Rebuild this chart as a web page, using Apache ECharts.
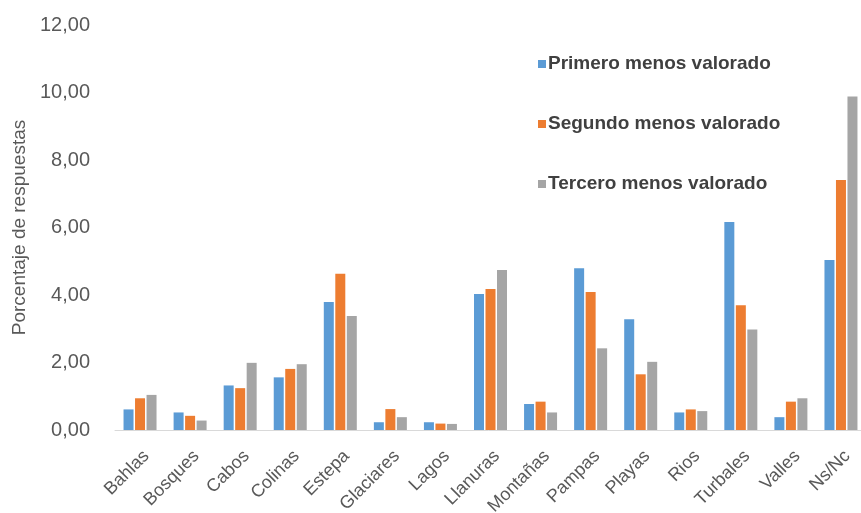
<!DOCTYPE html>
<html>
<head>
<meta charset="utf-8">
<script src="https://cdn.jsdelivr.net/npm/echarts@6/dist/echarts.min.js"></script>
<style>html,body{margin:0;padding:0;background:#fff;}#c{width:861px;height:513px;}</style>
</head>
<body>
<div id="c"></div>
<script>
const categories = ['Bahlas','Bosques','Cabos','Colinas','Estepa','Glaciares','Lagos','Llanuras','Montañas','Pampas','Playas','Rios','Turbales','Valles','Ns/Nc'];
const seriesNames = ['Primero menos valorado','Segundo menos valorado','Tercero menos valorado'];
const primero = [0.61,0.52,1.32,1.56,3.79,0.23,0.23,4.03,0.77,4.79,3.28,0.52,6.16,0.38,5.04];
const segundo = [0.94,0.42,1.24,1.81,4.63,0.62,0.19,4.18,0.84,4.09,1.65,0.61,3.70,0.84,7.41];
const tercero = [1.04,0.28,1.99,1.95,3.38,0.38,0.18,4.74,0.52,2.42,2.02,0.56,2.98,0.94,9.88];
const yTicks = [0,2,4,6,8,10,12];
const colors = ['#5B9BD5','#ED7D31','#A5A5A5'];

const chart = echarts.init(document.getElementById('c'));
const font = 'Liberation Sans, Arial, sans-serif';
const values = [primero, segundo, tercero];
chart.setOption({
  animation: false,
  color: colors,
  grid: {left: 115, right: -5, top: 25, bottom: 83, containLabel: false, outerBoundsMode: 'none'},
  legend: {
    orient: 'vertical', left: 533, top: 48,
    itemWidth: 8, itemHeight: 8, itemGap: 38,
    icon: 'rect',
    textStyle: {fontFamily: font, fontSize: 19, fontWeight: 'bold', color: '#404040', lineHeight: 22, padding: [0,0,0,-3]},
    data: seriesNames
  },
  xAxis: {
    type: 'category', data: categories,
    axisLine: {lineStyle: {color: '#D9D9D9'}},
    axisTick: {show: false},
    axisLabel: {rotate: 45, interval: 0, fontFamily: font, fontSize: 18, color: '#595959', margin: 17, verticalAlign: 'top'}
  },
  yAxis: {
    type: 'value', min: yTicks[0], max: yTicks[yTicks.length-1], interval: 2,
    name: 'Porcentaje de respuestas', nameLocation: 'middle', nameGap: 85,
    nameTextStyle: {fontFamily: font, fontSize: 19, color: '#595959'},
    splitLine: {show: false}, axisLine: {show: false}, axisTick: {show: false},
    axisLabel: {fontFamily: font, fontSize: 20, color: '#595959', margin: 25,
      formatter: v => v.toFixed(2).replace('.', ',')}
  },
  series: seriesNames.map((n, i) => ({
    name: n, type: 'bar', data: values[i], barWidth: 10, barGap: '15%'
  }))
});
</script>
</body>
</html>
